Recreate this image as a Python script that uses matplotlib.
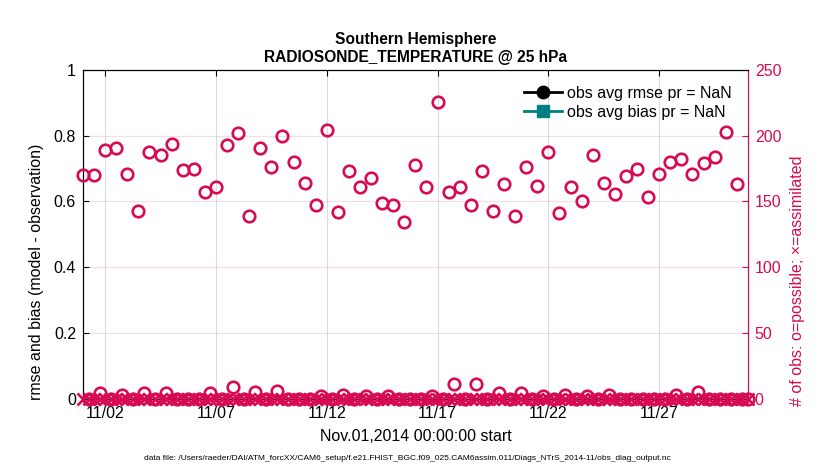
import numpy as np
import matplotlib
matplotlib.use('Agg')
import matplotlib.pyplot as plt
import matplotlib.dates as mdates

plt.rcParams['font.family'] = ['Liberation Sans', 'DejaVu Sans']

# ---- data ----
start = np.datetime64('2014-11-01T00:00')
n_bins = 121  # 6-hourly bins, Nov 1 00Z .. Dec 1 00Z
times = start + np.arange(n_bins) * np.timedelta64(6, 'h')

# possible obs at 00Z and 12Z (Nov 1 00Z .. Nov 30 12Z)
possible_00z_12z = [170, 170, 189, 191, 171, 143, 188, 185, 194, 174,
                    175, 157, 161, 193, 202, 139, 191, 176, 200, 180,
                    164, 147, 204, 142, 173, 161, 168, 149, 147, 134,
                    178, 161, 226, 157, 161, 147, 173, 143, 163, 139,
                    176, 162, 188, 141, 161, 150, 185, 164, 156, 169,
                    175, 153, 171, 180, 182, 171, 179, 184, 203, 163]
# possible obs at 06Z and 18Z (Nov 1 .. Nov 30)
possible_06z = [0, 0, 0, 0, 0, 0, 0, 0, 0, 0, 0, 0, 0, 0, 0,
                0, 0, 0, 0, 0, 0, 0, 0, 0, 0, 0, 0, 0, 0, 0]
possible_18z = [4, 3, 4, 4, 0, 4, 9, 5, 6, 0, 2, 3, 2, 2, 0,
                2, 11, 11, 4, 4, 2, 3, 2, 3, 0, 0, 3, 5, 0, 0]
possible_last = [0]  # Dec 1 00Z
assimilated = [0] * n_bins

rmse = [np.nan] * n_bins
bias = [np.nan] * n_bins

tick_dates = ['2014-11-02', '2014-11-07', '2014-11-12', '2014-11-17',
              '2014-11-22', '2014-11-27']

possible = []
for d in range(30):
    possible += [possible_00z_12z[2 * d], possible_06z[d],
                 possible_00z_12z[2 * d + 1], possible_18z[d]]
possible += possible_last
possible = np.array(possible, dtype=float)

# ---- style ----
crimson = '#D70A53'
teal = '#008080'
FS = 11.5

fig = plt.figure(figsize=(8.3, 4.7), dpi=100)
ax = fig.add_axes([0.1, 0.152, 0.801, 0.699])
ax2 = ax.twinx()

t = times.astype('datetime64[s]').astype(object)

h1, = ax.plot(t, rmse, 'o-', color='k', lw=2, ms=9, label='obs avg rmse pr = NaN')
h2, = ax.plot(t, bias, 's-', color=teal, lw=2, ms=9, label='obs avg bias pr = NaN')

ax2.plot(t, possible, 'o', ls='none', mfc='none', mec=crimson, ms=8.3, mew=1.9,
         clip_on=False, zorder=3)
ax2.plot(t, assimilated, 'x', ls='none', color=crimson, ms=8.3, mew=1.9,
         clip_on=False, zorder=3)

ax.set_xlim(np.datetime64('2014-11-01T00:00').astype(object),
            np.datetime64('2014-12-01T00:00').astype(object))
ax.set_xticks([np.datetime64(d).astype(object) for d in tick_dates])
ax.xaxis.set_major_formatter(mdates.DateFormatter('%m/%d'))

ax.set_ylim(0, 1)
ax.set_yticks([0, 0.2, 0.4, 0.6, 0.8, 1])
ax.set_yticklabels(['0', '0.2', '0.4', '0.6', '0.8', '1'])
ax2.set_ylim(0, 250)
ax2.set_yticks([0, 50, 100, 150, 200, 250])

ax.tick_params(direction='in', length=4, labelsize=FS, top=True, pad=5)
ax2.tick_params(axis='y', direction='in', length=4, labelsize=FS,
                colors=crimson, pad=5)
for a in (ax, ax2):
    for s in a.spines.values():
        s.set_linewidth(0.8)
ax2.spines['right'].set_color(crimson)

ax.xaxis.grid(True, color='#dcdcdc', lw=0.8)
ax2.yaxis.grid(True, color=crimson, alpha=0.15, lw=0.8)

ax.set_ylabel('rmse and bias (model - observation)', fontsize=FS)
ax.yaxis.set_label_coords(-0.058, 0.385)
ax2.set_ylabel('# of obs: o=possible; \u00d7=assimilated', fontsize=FS,
               color=crimson)
ax2.yaxis.set_label_coords(1.063, 0.36)
ax.set_xlabel('Nov.01,2014 00:00:00 start', fontsize=FS, labelpad=6)
ax.set_title('Southern Hemisphere\nRADIOSONDE_TEMPERATURE @ 25 hPa',
             fontsize=11.2, fontweight='bold', pad=6)

ax2.legend(handles=[h1, h2], loc='upper right', frameon=False, fontsize=FS,
           handlelength=2.4, handletextpad=0.3, borderaxespad=0.6,
           labelspacing=0.25, bbox_to_anchor=(1.0, 1.0))

fig.text(0.173, 0.022,
         'data file: /Users/raeder/DAI/ATM_forcXX/CAM6_setup/f.e21.FHIST_BGC.f09_025.CAM6assim.011/Diags_NTrS_2014-11/obs_diag_output.nc',
         fontsize=6.0)

fig.savefig('out.png', dpi=100)
